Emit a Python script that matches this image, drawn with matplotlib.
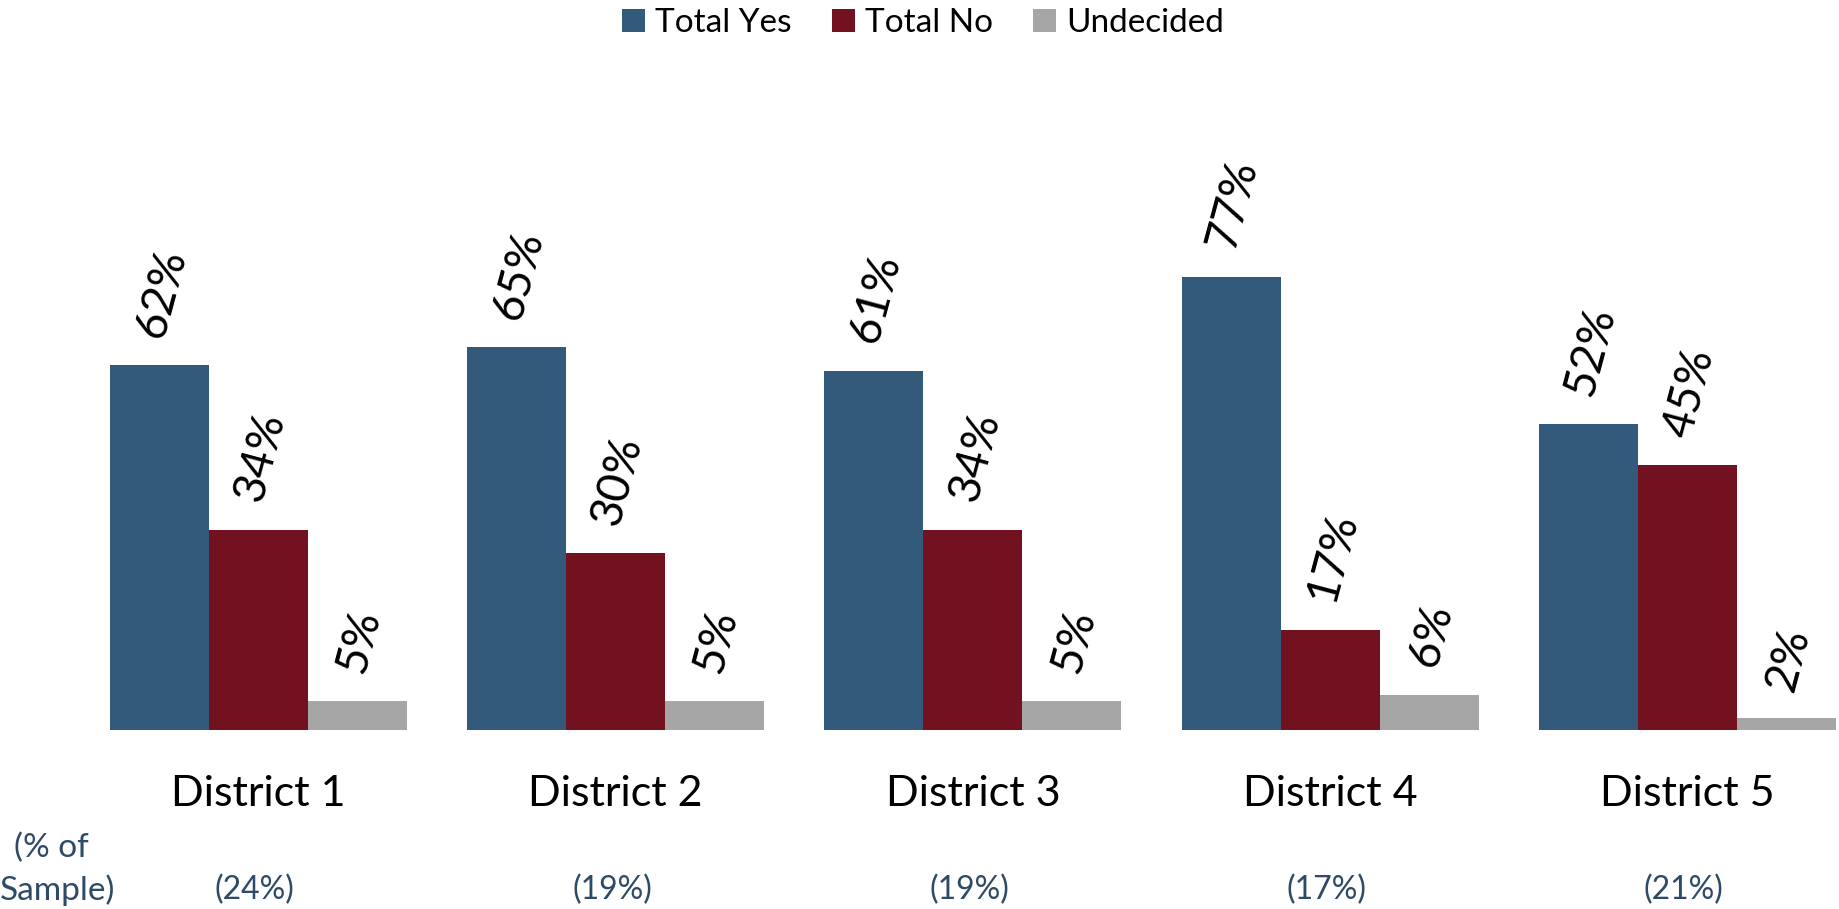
import matplotlib.pyplot as plt
import numpy as np

districts = ["District 1", "District 2", "District 3", "District 4", "District 5"]
samples = ["(24%)", "(19%)", "(19%)", "(17%)", "(21%)"]
series = ["Total Yes", "Total No", "Undecided"]
yes = [62, 65, 61, 77, 52]
no = [34, 30, 34, 17, 45]
undecided = [5, 5, 5, 6, 2]
colors = ["#345A7B", "#72111F", "#A6A6A6"]

plt.rcParams['font.family'] = ['Lato', 'DejaVu Sans']

fig = plt.figure(figsize=(18.39, 9.09), dpi=100)
ax = fig.add_axes([0, 179 / 909, 1, 730 / 909])

x = np.arange(len(districts))
w = 0.277
for i, (vals, name) in enumerate(zip([yes, no, undecided], series)):
    pos = x + (i - 1) * w
    ax.bar(pos, vals, w, color=colors[i], label=name)
    for p, v in zip(pos, vals):
        ax.text(p + 0.005, v + 4, f"{v}%", rotation=75, ha="center", va="bottom", fontsize=33)

ax.set_xlim(-0.7237, 4.4247)
ax.set_ylim(0, 730 / 5.885)
ax.axis("off")

sample_color = "#2E4A66"
for xi, d, s in zip(x, districts, samples):
    xf = ax.transData.transform((xi, 0))[0] / 1839
    fig.text(xf, 1 - 794 / 909, d, ha="center", va="center", fontsize=31)
    fig.text(xf - 0.002, 1 - 890 / 909, s, ha="center", va="center", fontsize=23, color=sample_color)

fig.text(14 / 1839, 1 - 848 / 909, "(% of", ha="left", va="center", fontsize=24, color=sample_color)
fig.text(0, 1 - 890 / 909, "Sample)", ha="left", va="center", fontsize=24, color=sample_color)

fig.legend(loc="center", bbox_to_anchor=(923 / 1839, 1 - 23 / 909), ncol=3, frameon=False,
           fontsize=24, handlelength=0.7, handleheight=0.7, handletextpad=0.3, columnspacing=1.2)

fig.savefig("out.png", dpi=100)
